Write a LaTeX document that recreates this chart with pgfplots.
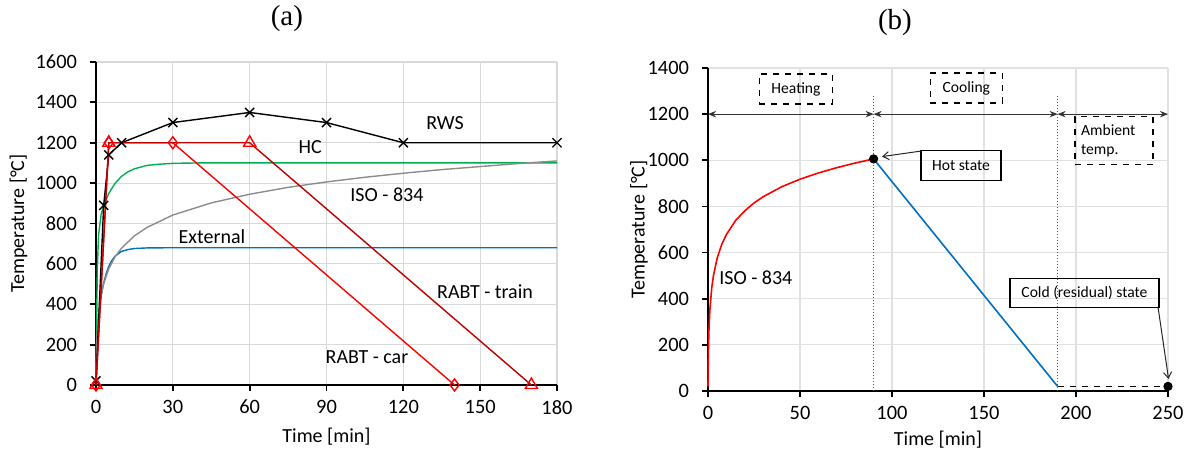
\documentclass[border=0pt]{standalone}
\usepackage{pgfplots}
\pgfplotsset{compat=1.18}
\usepackage{fontspec}
\setmainfont{Carlito}
\newfontfamily\titlefont{Liberation Serif}
\usetikzlibrary{arrows.meta}

\definecolor{hcgreen}{HTML}{00B050}
\definecolor{extblue}{HTML}{0070C0}
\definecolor{isogray}{HTML}{8C8C8C}
\definecolor{carred}{HTML}{FF0000}
\definecolor{trainred}{HTML}{C00000}
\definecolor{gridgray}{HTML}{D9D9D9}

\pgfplotsset{
  panel/.style={
    scale only axis,
    anchor=south west,
    axis x line*=bottom,
    axis y line*=left,
    axis line style={line width=1.1pt, black, -},
    grid=major,
    major grid style={draw=gridgray, line width=0.6pt},
    tick align=outside,
    major tick length=3pt,
    tick style={black, line width=0.9pt},
    tick label style={font=\fontsize{10.2}{12}\selectfont},
    yticklabel style={xshift=-3pt},
    xticklabel style={yshift=-1pt},
    label style={font=\fontsize{10}{12}\selectfont},
    /pgf/number format/assume math mode=true,
    /pgf/number format/1000 sep={},
    clip=false,
  },
}
\tikzset{
  note/.style={font=\fontsize{10}{12}\selectfont},
  boxnote/.style={font=\fontsize{7.8}{9.8}\selectfont, inner sep=1pt},
}

\begin{document}
\begin{tikzpicture}
\useasboundingbox (-48pt,-35pt) rectangle (547pt,192.5pt);

% ---------------- (a) standard fire curves ----------------
\begin{axis}[panel,
  at={(0pt,0pt)},
  width=230.5pt, height=161.5pt,
  xmin=0, xmax=180, ymin=0, ymax=1600,
  xtick={0,30,...,180}, ytick={0,200,...,1600},
  xlabel={Time [min]}, ylabel={Temperature [°C]},
  xlabel style={at={(axis description cs:0.5,-0.161)}, anchor=center},
  ylabel style={at={(axis description cs:-0.168,0.5)}, anchor=center},
]
% External fire curve
\addplot[extblue, line width=0.7pt] coordinates {
  (0,20) (0.5,263) (1,346) (2,441) (3,506) (4,552) (5,588) (6,613) (7.5,639)
  (10,662) (12.5,671) (15,676) (20,679) (30,680) (60,680) (120,680) (180,680)};
% Hydrocarbon curve
\addplot[hcgreen, line width=0.7pt] coordinates {
  (0,20) (0.5,568) (1,743) (2,844) (3,887) (4,920) (5,948) (6,970) (7.5,1000)
  (10,1034) (12.5,1056) (15,1071) (20,1088) (25,1094) (30,1098) (40,1100)
  (60,1100) (120,1100) (180,1100)};
% ISO 834 standard curve
\addplot[isogray, line width=0.7pt] coordinates {
  (0,20) (0.25,185) (0.5,261) (1,349) (2,445) (3,502) (5,576) (7.5,636)
  (10,678) (15,739) (20,781) (30,842) (45,902) (60,945) (75,979) (90,1006)
  (105,1029) (120,1049) (135,1067) (150,1082) (165,1097) (180,1110)};
% RWS curve
\addplot[black, line width=0.7pt, mark=x, mark size=3.2pt] coordinates {
  (0,20) (3,890) (5,1140) (10,1200) (30,1300) (60,1350) (90,1300) (120,1200) (180,1200)};
% RABT - car
\addplot[carred, line width=0.7pt, mark=diamond, mark size=3pt] coordinates {
  (0,0) (5,1200) (30,1200) (140,0)};
% RABT - train
\addplot[trainred, line width=0.7pt, mark=triangle, mark size=3.5pt,
  mark options={draw=carred}] coordinates {
  (0,0) (5,1200) (60,1200) (170,0)};

\node[note] at (axis cs:83.6,1179) {HC};
\node[note] at (axis cs:136.3,1298) {RWS};
\node[note] at (axis cs:113.6,941) {ISO - 834};
\node[note] at (axis cs:45.3,733) {External};
\node[note] at (axis cs:151.9,461) {RABT - train};
\node[note] at (axis cs:105.8,139) {RABT - car};

\node[font=\titlefont\fontsize{14.5}{16}\selectfont]
  at (axis description cs:0.414,1.136) {(a)};
\end{axis}

% ---------------- (b) heating / cooling phases ----------------
\begin{axis}[panel,
  at={(306pt,-3pt)},
  width=230pt, height=161.5pt,
  xmin=0, xmax=250, ymin=0, ymax=1400,
  xtick={0,50,...,250}, ytick={0,200,...,1400},
  xlabel={Time [min]}, ylabel={Temperature [°C]},
  xlabel style={at={(axis description cs:0.5,-0.152)}, anchor=center},
  ylabel style={at={(axis description cs:-0.15,0.5)}, anchor=center},
  major grid style={draw=gridgray!80, line width=0.6pt},
]
% phase boundaries
\draw[densely dotted, black!65, line width=0.5pt] (axis cs:90,0) -- (axis cs:90,1278);
\draw[densely dotted, black!65, line width=0.5pt] (axis cs:190,0) -- (axis cs:190,1283);
% phase extents
\draw[black!80, line width=0.5pt, {Stealth[length=4pt,width=3.2pt]}-{Stealth[length=4pt,width=3.2pt]}]
  (axis cs:0,1200) -- (axis cs:90,1200);
\draw[black!80, line width=0.5pt, {Stealth[length=4pt,width=3.2pt]}-{Stealth[length=4pt,width=3.2pt]}]
  (axis cs:90,1200) -- (axis cs:190,1200);
\draw[black!80, line width=0.5pt, {Stealth[length=4pt,width=3.2pt]}-{Stealth[length=4pt,width=3.2pt]}]
  (axis cs:190,1200) -- (axis cs:250,1200);

% heating: ISO 834
\addplot[carred, line width=0.8pt] coordinates {
  (0,20) (0.1,108) (0.25,185) (0.5,261) (1,349) (2,445) (3,502) (5,576)
  (7.5,636) (10,678) (15,739) (20,781) (25,815) (30,842) (40,885) (50,918)
  (60,945) (70,968) (80,988) (90,1006)};
% cooling
\addplot[extblue, line width=0.8pt] coordinates {(90,1006) (190,20)};
% ambient
\addplot[black, dashed, line width=0.7pt] coordinates {(190,20) (250,20)};
% hot and cold states
\addplot[only marks, mark=*, mark size=2.1pt, black] coordinates {(90,1006) (250,20)};

\node[draw, dashed, line width=0.7pt, boxnote, minimum width=36.5pt, minimum height=15pt]
  at (axis cs:47.8,1309) {Heating};
\node[draw, dashed, line width=0.7pt, boxnote, minimum width=36pt, minimum height=15pt]
  at (axis cs:140.4,1313) {Cooling};
\node[draw, dashed, line width=0.7pt, boxnote, minimum width=39pt, minimum height=24pt,
  align=left, text width=33pt] at (axis cs:220.7,1085) {Ambient\\temp.};
\node[draw, line width=0.6pt, boxnote, minimum width=40pt, minimum height=15pt]
  at (axis cs:137.5,977) {Hot state};
\node[draw, line width=0.6pt, boxnote, minimum width=74.5pt, minimum height=14.5pt]
  at (axis cs:204.6,426) {Cold (residual) state};
\draw[black!85, line width=0.5pt, -{Straight Barb[length=3pt,width=4pt]}]
  (axis cs:115.8,1040) -- (axis cs:94.6,1016);
\draw[black!85, line width=0.5pt, -{Straight Barb[length=3pt,width=4pt]}]
  (axis cs:244.6,363) -- (axis cs:250.3,52);

\node[note] at (axis cs:26,490) {ISO - 834};

\node[font=\titlefont\fontsize{14.5}{16}\selectfont]
  at (axis description cs:0.4065,1.142) {(b)};
\end{axis}
\end{tikzpicture}
\end{document}
